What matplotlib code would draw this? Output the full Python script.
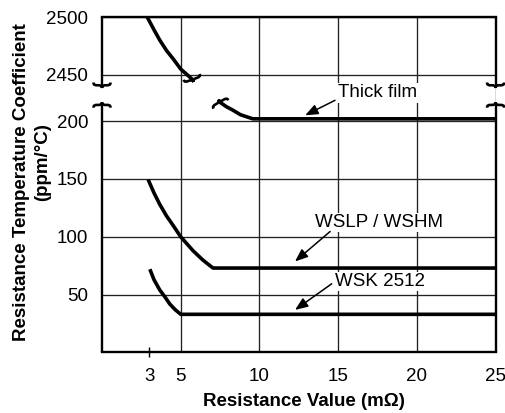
import numpy as np
import matplotlib
matplotlib.use("Agg")
import matplotlib.pyplot as plt
import matplotlib.transforms as mtransforms
from matplotlib.path import Path
from matplotlib.patches import PathPatch

plt.rcParams['font.family'] = ['Liberation Sans', 'DejaVu Sans']
plt.rcParams['font.size'] = 13.5

# curves (resistance in mOhm, TCR in ppm/C)
thick_hi_x = [2.87, 3.3, 3.67, 4.1, 4.51, 5.0, 5.75]
thick_hi_y = [2500, 2489, 2480, 2471, 2464, 2455, 2446]
thick_lo_x = [7.47, 7.9, 8.31, 8.8, 9.58, 25]
thick_lo_y = [216.5, 212.5, 209.5, 205.5, 202, 202]
wslp_x = [2.93, 3.3, 3.67, 4.1, 4.51, 5.0, 5.78, 6.4, 7.05, 25]
wslp_y = [149.5, 138, 128, 118, 110, 100, 88, 80, 73, 73]
wsk_x = [3.04, 3.3, 3.67, 4.0, 4.3, 4.65, 5.0, 25]
wsk_y = [72, 63, 54, 48, 42, 37, 33, 33]

x_ticks = [5, 10, 15, 20, 25]
y_ticks = [50, 100, 150, 200, 2450, 2500]

labels = ['Thick film', 'WSLP / WSHM', 'WSK 2512']
label_xy = [(15.0, 224.5), (13.53, 112.4), (14.8, 61.3)]
arrow_tail = [(14.8, 218), (14.49, 104.6), (14.59, 59.4)]
arrow_tip = [(12.9, 205), (12.26, 78.7), (12.26, 36.8)]

# broken y axis: values above the break are shifted down
OFFSET = 2210


def fwd(v):
    v = np.asarray(v, dtype=float)
    return np.where(v > 1000, v - OFFSET, v)


def inv(d):
    d = np.asarray(d, dtype=float)
    return np.where(d > 225, d + OFFSET, d)


fig = plt.figure(figsize=(5.06, 4.13), dpi=100)
ax = fig.add_axes([0.2016, 0.1465, 0.7778, 0.8123])
ax.set_yscale('function', functions=(fwd, inv))
ax.set_xlim(0, 25)
ax.set_ylim(0, 2500)

ax.set_xticks(x_ticks)
ax.set_xticks([3], minor=True)
ax.set_xticklabels([str(t) for t in x_ticks])
ax.set_xticklabels(['3'], minor=True)
ax.set_yticks(y_ticks)
ax.set_yticklabels([str(t) for t in y_ticks])
ax.yaxis.set_minor_locator(matplotlib.ticker.NullLocator())
ax.tick_params(axis='both', which='major', length=0, labelsize=13.5)
ax.tick_params(axis='x', which='major', pad=11)
ax.tick_params(axis='y', which='major', pad=10)
ax.tick_params(axis='x', which='minor', length=7, width=1, direction='inout',
               pad=7.5, labelsize=13.5)

ax.grid(True, which='major', color='#222222', lw=0.95)
ax.set_axisbelow(True)

for s in ['left', 'right']:
    ax.spines[s].set_visible(False)
for s in ['top', 'bottom']:
    ax.spines[s].set_linewidth(1.7)

# broken side spines
for xs in [0, 25]:
    ax.plot([xs, xs], [0, 214], color='black', lw=1.7, clip_on=False,
            solid_capstyle='butt', zorder=5)
    ax.plot([xs, xs], [2441, 2500], color='black', lw=1.7, clip_on=False,
            solid_capstyle='butt', zorder=5)

lw = 2.6
for xs, ys in [(thick_hi_x, thick_hi_y), (thick_lo_x, thick_lo_y),
               (wslp_x, wslp_y), (wsk_x, wsk_y)]:
    ax.plot(xs, ys, color='black', lw=lw, solid_capstyle='butt',
            solid_joinstyle='round', zorder=4, clip_on=False)


def brace(x, y, angle=0, flip=False, w=8.5, h=5.5):
    s = -1 if flip else 1
    verts = [(-w, s * 0.5 * h), (-w, s * 0.05 * h), (-0.85 * w, 0), (-0.5 * w, 0),
             (-0.2 * w, 0), (0, -s * 0.05 * h), (0, -s * 0.5 * h),
             (0, -s * 0.05 * h), (0.2 * w, 0), (0.5 * w, 0),
             (0.85 * w, 0), (w, s * 0.05 * h), (w, s * 0.5 * h)]
    codes = [Path.MOVETO] + [Path.CURVE4] * 12
    tr = (mtransforms.Affine2D().rotate_deg(angle)
          + mtransforms.ScaledTranslation(x, y, ax.transData))
    ax.add_patch(PathPatch(Path(verts, codes), transform=tr, fill=False,
                           lw=1.9, edgecolor='black', clip_on=False, zorder=6))


for xs in [0, 25]:
    brace(xs, 2441, flip=False)
    brace(xs, 214, flip=True)
brace(thick_hi_x[-1], thick_hi_y[-1], angle=20)
brace(thick_lo_x[0], thick_lo_y[0], angle=30, flip=True)

for txt, (tx, ty), tail, tip in zip(labels, label_xy, arrow_tail, arrow_tip):
    ax.text(tx, ty, txt, ha='left', va='center', fontsize=13.5,
            bbox=dict(facecolor='white', edgecolor='none', pad=1), zorder=3)
    ax.annotate('', xy=tip, xytext=tail,
                arrowprops=dict(arrowstyle='-|>,head_length=0.55,head_width=0.22',
                                color='black', lw=1.1,
                                mutation_scale=14, shrinkA=0, shrinkB=0),
                zorder=7)

fig.text(0.601, 0.029, 'Resistance Value (m\u03a9)', ha='center', va='center',
         fontsize=13.5, fontweight='bold')
fig.text(0.042, 0.559, 'Resistance Temperature Coefficient', ha='center',
         va='center', rotation=90, fontsize=13.5, fontweight='bold')
fig.text(0.085, 0.608, '(ppm/\u00b0C)', ha='center', va='center', rotation=90,
         fontsize=13.5, fontweight='bold')

fig.savefig('out.png', dpi=100)
